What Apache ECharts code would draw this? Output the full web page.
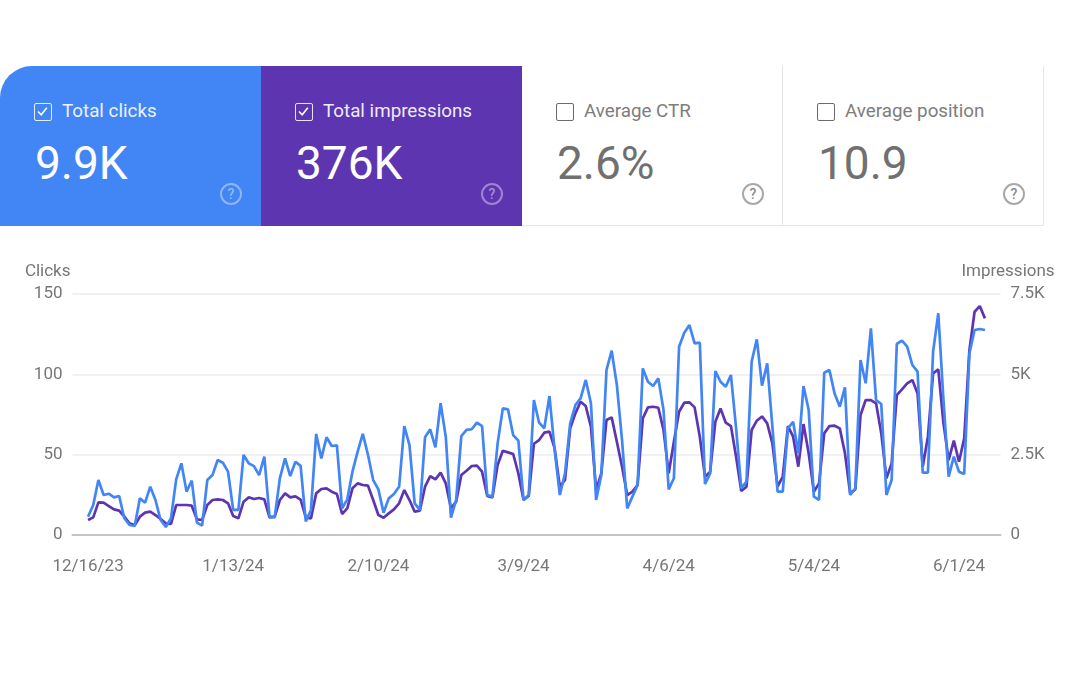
<!DOCTYPE html>
<html>
<head>
<meta charset="utf-8">
<title>Search performance</title>
<script src="https://cdn.jsdelivr.net/npm/echarts@6/dist/echarts.min.js"></script>
<style>
html, body { margin: 0; padding: 0; background: #fff; }
body { width: 1080px; height: 680px; position: relative; overflow: hidden; font-family: Roboto, sans-serif; }
#chart { position: absolute; left: 0; top: 0; width: 1080px; height: 680px; }
.card { position: absolute; top: 66px; width: 261px; height: 160px; box-sizing: border-box; color: #fff; }
.card.off { color: #707070; background: #fff; border-right: 1px solid #e6e6e6; border-bottom: 1px solid #e6e6e6; }
.box { position: absolute; left: 34px; top: 37px; width: 18px; height: 18px; box-sizing: border-box; border: 1.5px solid rgba(255,255,255,.85); border-radius: 2px; }
.off .box { border-color: #6a6a6a; }
.box svg { position: absolute; left: 0; top: 0; }
.name { position: absolute; left: 62px; top: 33px; font-size: 18.8px; line-height: 24px; opacity: .9; white-space: nowrap; }
.val { position: absolute; left: 35px; top: 70px; font-size: 46px; line-height: 54px; white-space: nowrap; }
.help { position: absolute; left: 220px; top: 117px; width: 22px; height: 22px; box-sizing: border-box; border: 2px solid rgba(255,255,255,.4); border-radius: 50%; color: rgba(255,255,255,.45); font-size: 14px; line-height: 18px; text-align: center; font-weight: 500; }
.off .help { border-color: #a8a8a8; color: #8a8a8a; }
</style>
</head>
<body>
<div id="chart"></div>
<div id="cards"></div>
<script>
var cardNames = ['Total clicks', 'Total impressions', 'Average CTR', 'Average position'];
var cardValues = ['9.9K', '376K', '2.6%', '10.9'];
var cardColors = ['#4285f4', '#5e35b1', '', ''];

var tickLabels = ['12/16/23', '1/13/24', '2/10/24', '3/9/24', '4/6/24', '5/4/24', '6/1/24'];
var clickTicks = [0, 50, 100, 150];
var impressionTicks = [0, 2500, 5000, 7500];

// daily values, 12/16/23 to 6/6/24
var clicks = [
	11.4, 18.7, 34.2, 24.9, 25.7, 23.4, 24.3, 10.4, 6.2, 5.6,
	22.8, 20.1, 30.1, 21.8, 9.3, 5, 10.4, 34.6, 44.6, 27,
	33.8, 7.7, 5.8, 34.2, 37.3, 46.7, 45, 39.4, 15.6, 15.6,
	49.8, 44.6, 42.9, 37.3, 48.8, 11.4, 11, 35.3, 47.7, 36.7,
	45.6, 43, 8.5, 15.6, 62.9, 47.7, 60.8, 55.4, 55.8, 16.6,
	22.2, 39.4, 51.9, 62.9, 49.8, 34.2, 28.4, 13.9, 22.8, 25.5,
	30, 67.8, 56, 19.7, 15.6, 60.8, 65.8, 54.6, 82, 61.2,
	10.8, 21.8, 61.6, 65.4, 65.8, 69.9, 67.8, 24.9, 23.9, 57,
	78.8, 78.2, 62.2, 58.7, 21.8, 24.9, 84, 69.9, 66.4, 86.5,
	52.9, 24.9, 38.4, 69.5, 80.9, 85, 96.5, 82, 21.8, 37.3,
	102.7, 114.7, 93.4, 59, 16.6, 23.9, 31.1, 103.7, 95.4, 92.7,
	97.5, 77.8, 28.4, 35.3, 117.2, 125.9, 130.7, 119.3, 119.7, 31.7,
	38.4, 102, 95.4, 92.3, 99.6, 66.4, 29, 33.2, 107.9, 121.8,
	93, 106.8, 67.4, 27, 27, 66.4, 70.5, 50.8, 92.7, 77.8,
	23.9, 21.8, 101, 102.7, 88, 79.9, 91.9, 24.9, 29, 108.9,
	94.4, 128.6, 84, 81.5, 24.9, 34.2, 118.9, 121, 117.2, 105.8,
	101.7, 38.8, 38.8, 114.1, 138, 84, 36.3, 48.8, 39.4, 38,
	113, 127.6, 128.2, 127.6
];
var impressions = [
	467, 550, 1016, 1006, 902, 798, 757, 570, 363, 300,
	570, 695, 726, 622, 498, 363, 342, 933, 933, 933,
	912, 487, 467, 933, 1089, 1110, 1089, 985, 591, 518,
	1037, 1172, 1120, 1151, 1110, 550, 570, 1089, 1296, 1172,
	1203, 1100, 550, 518, 1296, 1431, 1452, 1348, 1276, 653,
	830, 1452, 1607, 1556, 1535, 1089, 622, 539, 674, 798,
	985, 1400, 1089, 726, 757, 1504, 1835, 1732, 1939, 1607,
	830, 1037, 1867, 2001, 2147, 2157, 1970, 1213, 1172, 2178,
	2624, 2572, 2520, 1918, 1089, 1213, 2840, 2955, 3184, 3215,
	2696, 1504, 1711, 3318, 3785, 4148, 4013, 3370, 1400, 1918,
	3578, 3660, 2904, 2126, 1244, 1348, 1556, 3630, 3972, 3992,
	3961, 3267, 1918, 2904, 3837, 4117, 4127, 3972, 3059, 1815,
	1970, 3526, 3940, 3495, 3391, 2437, 1369, 1504, 3267, 3557,
	3690, 3474, 2852, 1504, 1815, 3391, 3059, 2126, 3453, 2541,
	1348, 1607, 3163, 3391, 3401, 3318, 2541, 1296, 1421, 3733,
	4200, 4200, 4096, 3163, 1763, 2230, 4355, 4532, 4718, 4822,
	4407, 2126, 3059, 5029, 5154, 3474, 2333, 2935, 2281, 3007,
	5755, 6948, 7124, 6741
];

// date categories, one per day
var days = [];
for (var i = 0; i < clicks.length; i++) {
	var d = new Date(Date.UTC(2023, 11, 16 + i));
	days.push((d.getUTCMonth() + 1) + '/' + d.getUTCDate() + '/' + String(d.getUTCFullYear()).slice(2));
}

// blank days on both ends so the grid lines run past the data
var pad = ['', '', ''];
var axisDays = pad.concat(days, pad);
var nulls = [null, null, null];

// the four cards on top
var html = '';
cardNames.forEach(function (name, i) {
	var on = cardColors[i] !== '';
	html += '<div class="card' + (on ? '' : ' off') + '" style="left:' + (261 * i) + 'px;'
		+ (on ? 'background:' + cardColors[i] + ';' : '')
		+ (i === 0 ? 'border-top-left-radius:32px;' : '') + '">'
		+ '<div class="box">' + (on ? '<svg width="15" height="15" viewBox="0 0 15 15"><path d="M3 7.5l3.2 3.2 5.6-7" fill="none" stroke="#fff" stroke-width="1.6"/></svg>' : '') + '</div>'
		+ '<div class="name">' + name + '</div>'
		+ '<div class="val">' + cardValues[i] + '</div>'
		+ '<div class="help">?</div></div>';
});
document.getElementById('cards').innerHTML = html;

var labelColor = '#777777';
var myChart = echarts.init(document.getElementById('chart'));
myChart.setOption({
	animation: false,
	textStyle: { fontFamily: 'Roboto' },
	grid: { left: 72.5, right: 79.5, top: 294, bottom: 145 },
	xAxis: {
		type: 'category',
		boundaryGap: false,
		data: axisDays,
		axisTick: { show: false },
		axisLine: { lineStyle: { color: '#c4c4c4', width: 2 } },
		axisLabel: {
			color: labelColor,
			fontSize: 17,
			margin: 23,
			hideOverlap: false,
			interval: function (index, value) {
				return tickLabels.indexOf(value) >= 0;
			}
		}
	},
	yAxis: [
		{
			type: 'value',
			name: 'Clicks',
			nameGap: 14,
			nameTextStyle: { color: labelColor, fontSize: 17, align: 'right', padding: [0, 2, 0, 0] },
			min: clickTicks[0],
			max: clickTicks[clickTicks.length - 1],
			interval: 50,
			axisLine: { show: false },
			axisTick: { show: false },
			axisLabel: { color: labelColor, fontSize: 17, margin: 10, padding: [3, 0, 0, 0] },
			splitLine: { lineStyle: { color: '#ececec', width: 1.5 } }
		},
		{
			type: 'value',
			name: 'Impressions',
			nameGap: 14,
			nameTextStyle: { color: labelColor, fontSize: 17, align: 'center', padding: [0, 0, 0, 15] },
			min: impressionTicks[0],
			max: impressionTicks[impressionTicks.length - 1],
			interval: 2500,
			axisLine: { show: false },
			axisTick: { show: false },
			axisLabel: {
				color: labelColor,
				fontSize: 17,
				margin: 10,
				padding: [3, 0, 0, 0],
				formatter: function (v) {
					return v === 0 ? '0' : (v / 1000) + 'K';
				}
			},
			splitLine: { show: false }
		}
	],
	series: [
		{
			name: 'Impressions',
			type: 'line',
			yAxisIndex: 1,
			showSymbol: false,
			data: nulls.concat(impressions, nulls),
			lineStyle: { color: '#5e35b1', width: 2.7 }
		},
		{
			name: 'Clicks',
			type: 'line',
			yAxisIndex: 0,
			showSymbol: false,
			data: nulls.concat(clicks, nulls),
			lineStyle: { color: '#4285f4', width: 2.7 }
		}
	]
});
</script>
</body>
</html>
